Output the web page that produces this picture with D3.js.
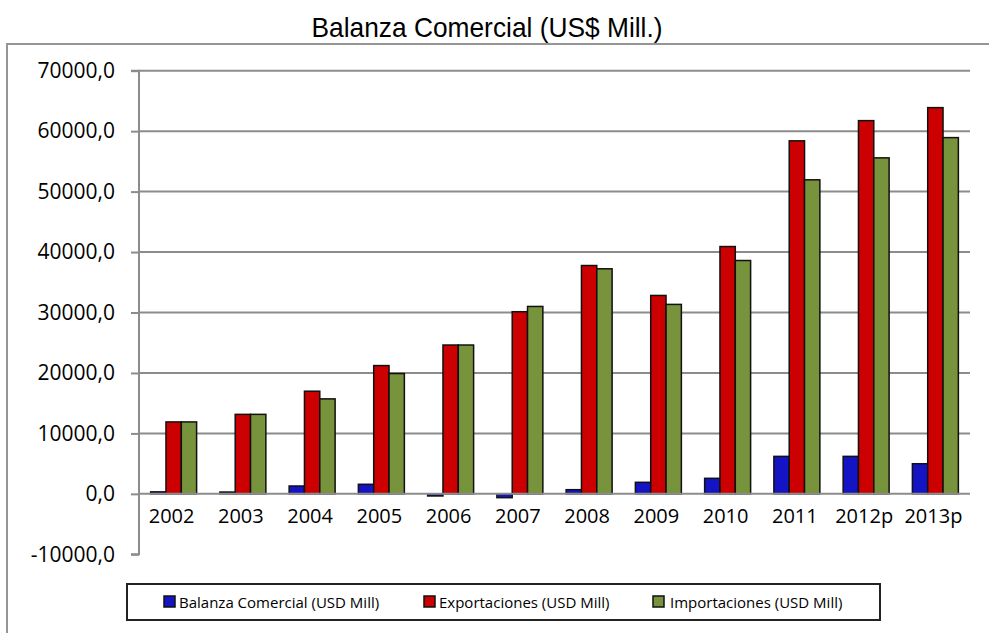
<!DOCTYPE html>
<html><head><meta charset="utf-8">
<script src="https://cdn.jsdelivr.net/npm/d3@7"></script>
<style>body{margin:0;background:#fff}svg{display:block}</style>
</head><body>
<svg id="c" width="989" height="633"></svg>
<script>
const categories = ['2002','2003','2004','2005','2006','2007','2008','2009','2010','2011','2012p','2013p'];
const balanza = [330, 300, 1300, 1580, -350, -630, 690, 1910, 2570, 6200, 6200, 4980];
const exportaciones = [11900, 13150, 16980, 21220, 24620, 30130, 37770, 32820, 40910, 58400, 61740, 63890];
const importaciones = [11900, 13150, 15710, 19900, 24620, 31000, 37230, 31340, 38600, 51950, 55580, 58930];
const seriesNames = ['Balanza Comercial (USD Mill)','Exportaciones (USD Mill)','Importaciones (USD Mill)'];
const seriesColors = ['#1414c4','#cc0000','#77933c'];
const yTicks = [-10000,0,10000,20000,30000,40000,50000,60000,70000];
const title = 'Balanza Comercial (US$ Mill.)';

const seriesValues = [balanza, exportaciones, importaciones];
const svg = d3.select('#c');
const L = 139, R = 970;
const y = d3.scaleLinear().domain([-10000, 70000]).range([554.3, 70.7]);
const x0 = d3.scaleBand().domain(categories).range([L, R]).padding(0);
const gw = x0.bandwidth() * 0.664;
const x1 = d3.scaleBand().domain(d3.range(3)).range([0, gw]).padding(0);

// outer border
svg.append('rect').attr('x', 7).attr('y', 44).attr('width', 1000).attr('height', 700)
  .attr('fill', 'none').attr('stroke', '#969696').attr('stroke-width', 2);

// title
svg.append('text').attr('x', 487).attr('y', 37).attr('text-anchor', 'middle')
  .attr('font-family', 'Liberation Sans, Arial, sans-serif').attr('font-size', 28)
  .attr('textLength', 351).attr('lengthAdjust', 'spacingAndGlyphs')
  .attr('fill', '#000').text(title);

// gridlines
svg.append('g').selectAll('line').data(yTicks.filter(t => t > 0)).join('line')
  .attr('x1', L).attr('x2', R).attr('y1', d => y(d)).attr('y2', d => y(d))
  .attr('stroke', '#8c8c8c').attr('stroke-width', 2);

// y axis
const yAxis = d3.axisLeft(y).tickValues(yTicks).tickSize(8).tickPadding(16)
  .tickFormat(d => (d < 0 ? '-' : '') + Math.abs(d).toFixed(1).replace('.', ','));
const ga = svg.append('g').attr('transform', `translate(${L},0)`).call(yAxis);
ga.select('.domain').attr('stroke', '#8c8c8c').attr('stroke-width', 2).attr('d', `M-8,${y(-10000)}H0V${y(70000)}H-8`);
ga.selectAll('.tick line').attr('stroke', '#8c8c8c').attr('stroke-width', 2);
ga.selectAll('.tick text').attr('font-family', 'Open Sans, sans-serif').attr('font-size', 21).attr('fill', '#000');

// bars
const groups = svg.append('g').selectAll('g').data(categories).join('g')
  .attr('transform', d => `translate(${x0(d) + (x0.bandwidth() - gw) / 2},0)`);
groups.selectAll('rect').data((d, i) => seriesValues.map((s, k) => ({k, v: s[i]}))).join('rect')
  .attr('x', d => x1(d.k)).attr('width', x1.bandwidth())
  .attr('y', d => y(Math.max(0, d.v))).attr('height', d => Math.abs(y(d.v) - y(0)))
  .attr('fill', d => seriesColors[d.k]).attr('stroke', '#111').attr('stroke-width', 1.5);

// x axis line
svg.append('line').attr('x1', L).attr('x2', R).attr('y1', y(0)).attr('y2', y(0))
  .attr('stroke', '#8c8c8c').attr('stroke-width', 2);
const xa = d3.axisBottom(x0).tickSize(0).tickPadding(0);
const gx = svg.append('g').attr('transform', `translate(0,${y(0)})`).call(xa);
gx.select('.domain').remove();
gx.selectAll('.tick text').attr('font-family', 'Open Sans, sans-serif').attr('font-size', 20)
  .attr('fill', '#000').attr('dy', '1.45em').attr('dx', -2);

// legend
svg.append('rect').attr('x', 127).attr('y', 584).attr('width', 753).attr('height', 36)
  .attr('fill', '#fff').attr('stroke', '#222').attr('stroke-width', 2);
const legX = [164, 424, 653];
const lg = svg.append('g').selectAll('g').data(seriesNames).join('g')
  .attr('transform', (d, i) => `translate(${legX[i]},602)`);
lg.append('rect').attr('x', 0).attr('y', -6).attr('width', 11).attr('height', 11)
  .attr('fill', (d, i) => seriesColors[i]).attr('stroke', '#111').attr('stroke-width', 1.5);
lg.append('text').attr('x', (d, i) => i === 2 ? 17 : 15).attr('y', 6)
  .attr('font-family', 'Open Sans, sans-serif').attr('font-size', 15).attr('fill', '#000')
  .text(d => d);
</script>
</body></html>
